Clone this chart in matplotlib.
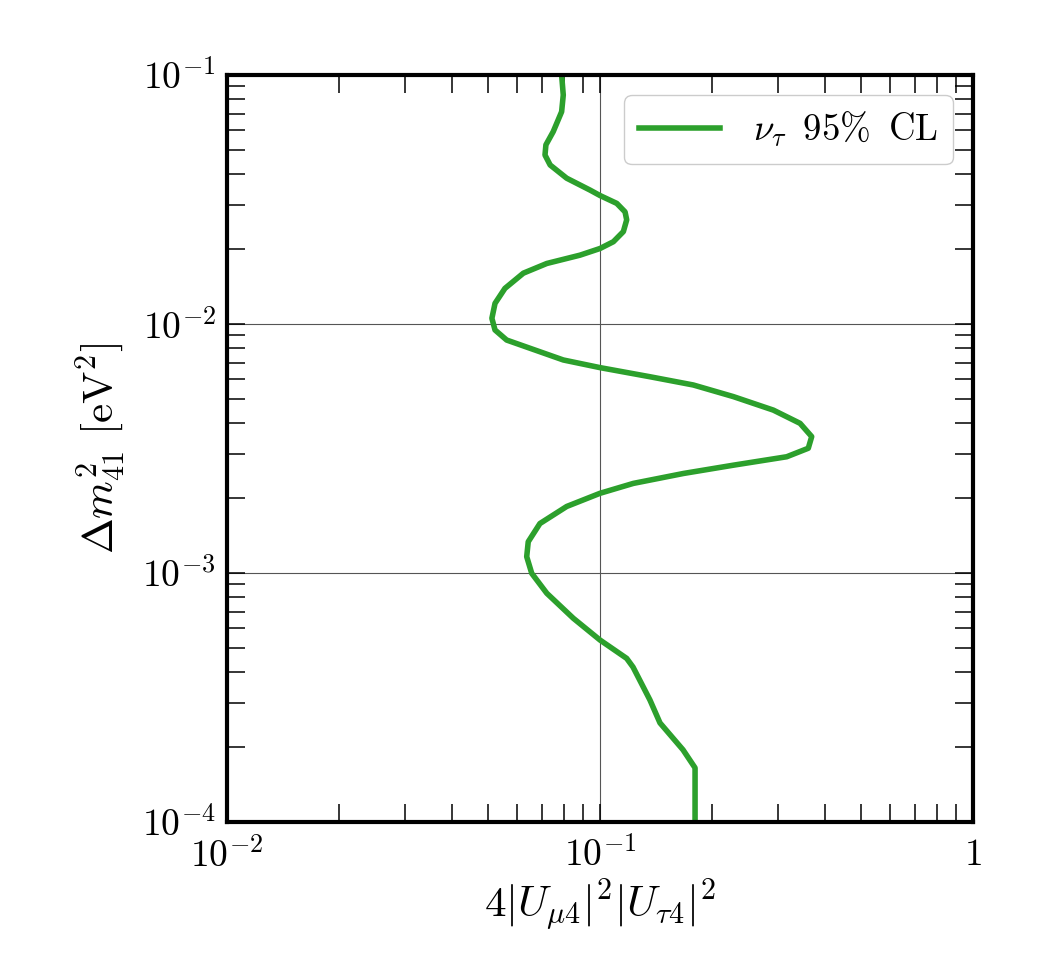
import numpy as np
from matplotlib import pyplot as plt

# exclusion contour
mixing = [0.0789, 0.0797, 0.0789, 0.0749, 0.0716, 0.0712, 0.0735, 0.0814, 0.0940, 0.100,
          0.1109, 0.1167, 0.1179, 0.1155, 0.1086, 0.100, 0.0884, 0.0720, 0.0623, 0.0556,
          0.0523, 0.0513, 0.0523, 0.0562, 0.0649, 0.0797, 0.100, 0.1361, 0.1778, 0.2277,
          0.2915, 0.3438, 0.3694, 0.3617, 0.3166, 0.2277, 0.1673, 0.1228, 0.100, 0.0814,
          0.0690, 0.0642, 0.0636, 0.0656, 0.0720, 0.0848, 0.100, 0.1179, 0.1226, 0.1361,
          0.1448, 0.1669, 0.1798, 0.1798]
dm2 = [0.1, 0.0831, 0.0712, 0.0592, 0.0524, 0.0477, 0.0435, 0.0385, 0.0345, 0.0328,
       0.0305, 0.0282, 0.0262, 0.0235, 0.0214, 0.0201, 0.0189, 0.0175, 0.0160, 0.0139,
       0.0121, 0.01054, 0.00946, 0.00862, 0.00799, 0.00717, 0.00668, 0.00614, 0.00569, 0.00511,
       0.00451, 0.00399, 0.00353, 0.00317, 0.00293, 0.00271, 0.00251, 0.00229, 0.00209, 0.00185,
       0.00158, 0.001335, 0.001163, 0.000997, 0.000829, 0.000658, 0.000538, 0.000454, 0.000419, 0.000309,
       0.000250, 0.000195, 0.000165, 0.0001]

plt.rcParams['mathtext.fontset'] = 'cm'
plt.rcParams['font.family'] = 'serif'
plt.rcParams['font.serif'] = ['DejaVu Serif']

fig = plt.figure(figsize=(10.5, 9.75), dpi=100)
ax = fig.add_axes([0.2162, 0.1569, 0.7105, 0.7662])

ax.plot(mixing, dm2, color='#2ca02c', lw=4, label=r'$\nu_\tau\;\;95\%\;\;\mathrm{CL}$')

ax.set_xscale('log')
ax.set_yscale('log')
ax.set_xlim(1e-2, 1)
ax.set_ylim(1e-4, 1e-1)

ax.set_xticks([1e-2, 1e-1, 1])
ax.set_xticklabels([r'$10^{-2}$', r'$10^{-1}$', r'$1$'])
ax.set_yticks([1e-4, 1e-3, 1e-2, 1e-1])
ax.set_yticklabels([r'$10^{-4}$', r'$10^{-3}$', r'$10^{-2}$', r'$10^{-1}$'])

ax.tick_params(which='both', direction='in', top=True, right=True,
               length=13, width=1.1, labelsize=27)
ax.tick_params(axis='x', pad=11)
ax.tick_params(axis='y', pad=8)
ax.grid(True, which='major', color='#555555', lw=0.8)
for s in ax.spines.values():
    s.set_linewidth(3)

ax.set_xlabel(r'$4|U_{\mu 4}|^2|U_{\tau 4}|^2$', fontsize=31, labelpad=2)
ax.set_ylabel(r'$\Delta m^2_{41}\ [\mathrm{eV}^2]$', fontsize=31, labelpad=10)

ax.legend(loc='upper right', fontsize=26.5, handlelength=2.2, borderpad=0.4,
          handletextpad=0.9, borderaxespad=0.55, framealpha=1, edgecolor='#cccccc')

fig.savefig('out.png', dpi=100)
